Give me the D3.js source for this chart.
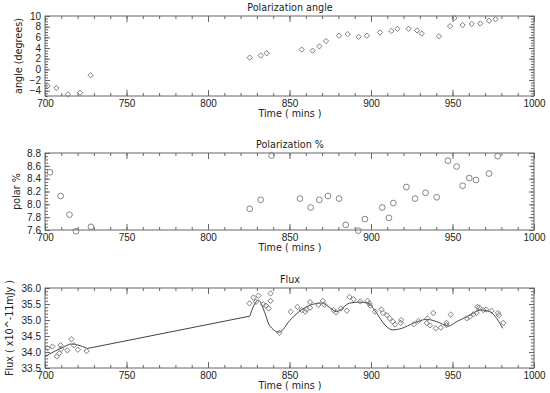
<!DOCTYPE html>
<html>
  <head>
    <meta charset="utf-8">
    <title>Polarization and flux</title>
    <script src="https://d3js.org/d3.v7.min.js"></script>
    <style>
      body { margin: 0; background: #fff; }
      svg { display: block; font-family: "DejaVu Sans", sans-serif; }
      .axis path, .axis line { stroke: #666; }
      .axis text { fill: #222; font-size: 10px; }
      .label { fill: #222; font-size: 9.6px; }
    </style>
  </head>
  <body>
    <svg id="chart" width="550" height="393"></svg>
    <script>
      // data
      var angleTime = [701.6, 707, 714, 721.5, 728, 825.6, 832.3, 836, 857.5, 864.2, 868.3, 872.4, 880.4, 885.7, 892.4, 897.5,
        905.5, 912.5, 916.2, 923.1, 928.2, 931.1, 941.7, 948.5, 951.1, 956.2, 961.8, 967, 972.4, 976.4];
      var angleVal = [-3.1, -3.5, -4.7, -4.4, -1.1, 2.2, 2.6, 3.0, 3.7, 3.5, 4.3, 5.3, 6.3, 6.6, 6.1, 6.3,
        6.9, 7.2, 7.6, 7.6, 7.3, 6.7, 6.2, 8.1, 9.6, 8.3, 8.5, 8.6, 9.1, 9.4];

      var polarTime = [703, 709.6, 715, 719, 728.2, 825.6, 832.3, 839, 856.4, 863, 868.3, 873.6, 880.4, 884.5, 892.2, 896.3,
        906.9, 911, 913.7, 921.7, 927, 933.5, 940.3, 947.2, 952.5, 956.2, 960.3, 964.4, 972.4, 977.7];
      var polarVal = [8.5, 8.13, 7.84, 7.58, 7.65, 7.93, 8.07, 8.76, 8.09, 7.95, 8.07, 8.13, 8.09, 7.68, 7.59, 7.77,
        7.95, 7.79, 8.02, 8.27, 8.09, 8.18, 8.11, 8.68, 8.59, 8.29, 8.41, 8.38, 8.48, 8.75];

      var fluxTime = [701.6, 704.5, 707.2, 708.8, 709.8, 709.6, 713.7, 716.2, 717.8, 720.2, 725.5,
        825.4, 827.8, 830.9, 829.4, 833.9, 835.5, 838.4, 838.4, 837.2, 843.7,
        850.7, 854.8, 857.5, 859.7, 860.5, 862.6, 862.6, 867.7, 870.4, 871.4, 876.9, 878.6, 881.5, 885.2,
        886.8, 889.3, 893.4, 897.9, 898.9, 899.5, 902.4, 906.4, 907.3, 909.8, 911.4, 913.4, 914.7, 918.5,
        918.3, 926.4, 929.1, 934.6, 934.2, 936.2, 938.2, 939.7, 942.8, 946.4, 946.4, 948.9, 958.7, 960.7,
        962.8, 964.8, 965.2, 966.4, 968.9, 970.6, 974, 977.9, 978.5, 981.2];
      var fluxVal = [34.12, 34.17, 33.86, 33.96, 34.09, 34.21, 34.05, 34.40, 34.21, 34.07, 34.03,
        35.52, 35.70, 35.76, 35.57, 35.49, 35.45, 35.83, 35.60, 35.36, 34.60,
        35.26, 35.41, 35.31, 35.26, 35.33, 35.38, 35.56, 35.47, 35.60, 35.48, 35.31, 35.24, 35.36, 35.29,
        35.72, 35.65, 35.58, 35.60, 35.52, 35.45, 35.26, 35.33, 35.22, 35.15, 35.05, 34.95, 34.86, 35.00,
        34.91, 34.87, 34.97, 35.05, 34.90, 34.83, 35.22, 34.74, 34.76, 34.91, 34.84, 35.17, 35.05, 35.10,
        35.18, 35.22, 35.41, 35.39, 35.31, 35.33, 35.29, 35.22, 35.15, 34.91];

      var fitTime = [700, 711.2, 716.3, 720, 726, 825.6, 830.9, 835, 837.6, 843.7, 850.1, 856.3, 862.4, 869.6, 874.7,
        878.8, 887, 893.2, 898.3, 903.5, 908.6, 913.4, 918.9, 926, 934.2, 940.3, 947.5, 952.6, 960.7, 966.9,
        973, 977.1, 980.8];
      var fitVal = [33.86, 34.15, 34.25, 34.22, 34.11, 35.12, 35.62, 35.21, 34.84, 34.62, 34.98, 35.28, 35.46, 35.53, 35.39,
        35.26, 35.53, 35.56, 35.52, 35.21, 34.84, 34.69, 34.74, 34.90, 35.02, 34.95, 34.81, 34.95, 35.15, 35.31,
        35.26, 35.05, 34.74];

      var xTicks = [700, 750, 800, 850, 900, 950, 1000];

      var svg = d3.select("#chart");
      var x = d3.scaleLinear().domain([700, 1000]).range([45, 534]);
      var minorX = d3.range(700, 1001, 10);

      function drawPanel(p) {
        var y = d3.scaleLinear().domain(p.domain).range([p.bottom, p.top]);
        var g = svg.append("g");
        // frame
        g.append("rect")
          .attr("x", x.range()[0])
          .attr("y", p.top)
          .attr("width", x.range()[1] - x.range()[0])
          .attr("height", p.bottom - p.top)
          .attr("fill", "none")
          .attr("stroke", "#666");
        // x axes, ticks inward
        g.append("g").attr("class", "axis")
          .attr("transform", "translate(0," + p.bottom + ")")
          .call(d3.axisBottom(x).tickValues(minorX).tickSize(-3).tickFormat(""));
        g.append("g").attr("class", "axis")
          .attr("transform", "translate(0," + p.bottom + ")")
          .call(d3.axisBottom(x).tickValues(xTicks).tickSize(-6).tickPadding(4).tickFormat(d3.format("d")));
        g.append("g").attr("class", "axis")
          .attr("transform", "translate(0," + p.top + ")")
          .call(d3.axisTop(x).tickValues(minorX).tickSize(-3).tickFormat(""));
        g.append("g").attr("class", "axis")
          .attr("transform", "translate(0," + p.top + ")")
          .call(d3.axisTop(x).tickValues(xTicks).tickSize(-6).tickFormat(""));
        // y axes
        g.append("g").attr("class", "axis")
          .attr("transform", "translate(" + x.range()[0] + ",0)")
          .call(d3.axisLeft(y).tickValues(p.minor).tickSize(-3).tickFormat(""));
        g.append("g").attr("class", "axis")
          .attr("transform", "translate(" + x.range()[0] + ",0)")
          .call(d3.axisLeft(y).tickValues(p.ticks).tickSize(-5).tickPadding(4).tickFormat(d3.format(p.fmt)));
        g.append("g").attr("class", "axis")
          .attr("transform", "translate(" + x.range()[1] + ",0)")
          .call(d3.axisRight(y).tickValues(p.minor).tickSize(-3).tickFormat(""));
        g.append("g").attr("class", "axis")
          .attr("transform", "translate(" + x.range()[1] + ",0)")
          .call(d3.axisRight(y).tickValues(p.ticks).tickSize(-5).tickFormat(""));
        g.selectAll(".axis .domain").remove();
        g.selectAll(".axis text").attr("fill", "#222").style("font-size", "10px");
        // labels
        g.append("text").attr("class", "label")
          .attr("x", 290).attr("y", p.top - 5)
          .attr("text-anchor", "middle")
          .text(p.title);
        g.append("text").attr("class", "label")
          .attr("x", 290).attr("y", p.bottom + 21)
          .attr("text-anchor", "middle")
          .text("Time ( mins )");
        g.append("text").attr("class", "label")
          .attr("transform", "translate(" + p.ylabelX + "," + ((p.top + p.bottom) / 2) + ") rotate(-90)")
          .attr("text-anchor", "middle")
          .text(p.ylabel);
        // model line: smooth within runs, straight across the data gap
        if (p.line) {
          var lt = p.line[0], lv = p.line[1];
          var runs = [[0]];
          for (var i = 1; i < lt.length; i++) {
            if (lt[i] - lt[i - 1] > 30) {
              g.append("path")
                .attr("d", d3.line()([[x(lt[i - 1]), y(lv[i - 1])], [x(lt[i]), y(lv[i])]]))
                .attr("fill", "none").attr("stroke", "#444").attr("stroke-width", 1);
              runs.push([i]);
            } else {
              runs[runs.length - 1].push(i);
            }
          }
          runs.forEach(function(r) {
            g.append("path")
              .attr("d", d3.line()
                .x(function(k) { return x(lt[k]); })
                .y(function(k) { return y(lv[k]); })
                .curve(d3.curveMonotoneX)(r))
              .attr("fill", "none")
              .attr("stroke", "#444")
              .attr("stroke-width", 1);
          });
        }
        // markers
        var sym = d3.symbol().type(p.marker).size(p.size);
        g.selectAll(".pt")
          .data(p.vals)
          .enter()
          .append("path")
            .attr("class", "pt")
            .attr("transform", function(d, i) {
              return "translate(" + x(p.times[i]) + "," + y(d) + ")" + (p.marker === d3.symbolSquare ? " rotate(45)" : "");
            })
            .attr("d", sym)
            .attr("fill", "none")
            .attr("stroke", "#777")
            .attr("stroke-width", 0.9);
      }

      drawPanel({
        title: "Polarization angle", ylabel: "angle (degrees)", ylabelX: 22,
        top: 16, bottom: 96, domain: [-5, 10],
        ticks: [-4, -2, 0, 2, 4, 6, 8, 10], minor: d3.range(-5, 10.01, 0.5), fmt: "d",
        times: angleTime, vals: angleVal, marker: d3.symbolSquare, size: 14
      });
      drawPanel({
        title: "Polarization %", ylabel: "polar %", ylabelX: 20,
        top: 153, bottom: 230, domain: [7.6, 8.8],
        ticks: [7.6, 7.8, 8.0, 8.2, 8.4, 8.6, 8.8], minor: d3.range(7.6, 8.801, 0.05), fmt: ".1f",
        times: polarTime, vals: polarVal, marker: d3.symbolCircle, size: 26
      });
      drawPanel({
        title: "Flux", ylabel: "Flux ( x10^-11mJy )", ylabelX: 13,
        top: 288, bottom: 368, domain: [33.5, 36.0],
        ticks: [33.5, 34.0, 34.5, 35.0, 35.5, 36.0], minor: d3.range(33.5, 36.001, 0.1), fmt: ".1f",
        times: fluxTime, vals: fluxVal, marker: d3.symbolSquare, size: 14,
        line: [fitTime, fitVal]
      });
    </script>
  </body>
</html>
